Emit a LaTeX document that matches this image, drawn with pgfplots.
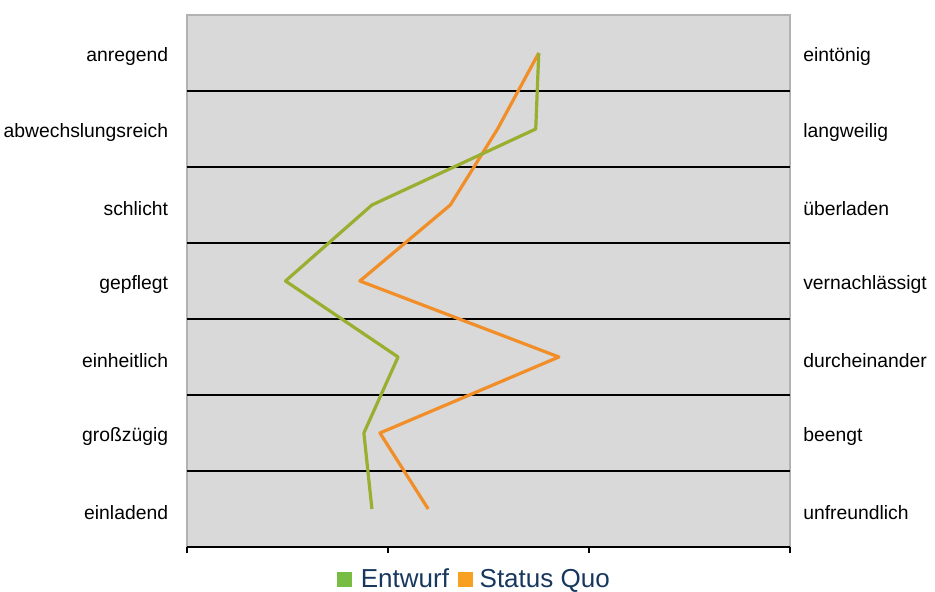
\documentclass[border=0pt]{standalone}
\usepackage{pgfplots}
\pgfplotsset{compat=1.18}
\usepackage{fontspec}
\setmainfont{Liberation Sans}
\definecolor{bg}{HTML}{D9D9D9}
\definecolor{lgreen}{HTML}{9AAE2F}
\definecolor{lorange}{HTML}{F28E28}
\definecolor{sqgreen}{HTML}{77BC43}
\definecolor{sqorange}{HTML}{F7A021}
\definecolor{navy}{HTML}{17375E}
\begin{document}
\begin{tikzpicture}
\useasboundingbox (-140.25pt,-33.75pt) rectangle (561pt,410.25pt);
\begin{axis}[at={(0,0)}, anchor=south west, scale only axis, width=452.25pt, height=399pt,
 xmin=0, xmax=3, ymin=0, ymax=7,
 axis x line*=bottom, axis y line*=left,
 x axis line style={black, line width=1.2pt, -},
 y axis line style={draw=none},
 axis background/.style={fill=bg, draw=gray!60, line width=0.8pt},
 xtick={0,1,2,3}, xticklabels={}, tick align=outside, major tick length=4.5pt,
 x tick style={black, line width=1pt},
 ytick={0.5,1.5,2.5,3.5,4.5,5.5,6.5},
 yticklabels={einladend,großzügig,einheitlich,gepflegt,schlicht,abwechslungsreich,anregend},
 y tick style={draw=none},
 yticklabel style={font=\fontsize{14.5}{16}\selectfont, inner sep=0pt, xshift=-9.5pt, yshift=-2.5pt},
 minor ytick={1,2,3,4,5,6}, yminorgrids, minor grid style={black, line width=1.2pt},
 minor tick length=0pt,
 legend style={at={(0.477,-0.061)}, anchor=center, draw=none, fill=none, legend columns=2,
   inner sep=0pt, font=\fontsize{19.5}{23}\selectfont, text=navy,
   /tikz/every even column/.append style={column sep=5pt}},
 legend cell align=left,
]
\addplot[lorange, line width=2.4pt, line join=round, forget plot] coordinates {(1.20,0.5) (0.96,1.5) (1.85,2.5) (0.86,3.5) (1.31,4.5) (1.545,5.5) (1.75,6.5)};
\addplot[lgreen, line width=2.4pt, line join=round, forget plot] coordinates {(0.92,0.5) (0.88,1.5) (1.05,2.5) (0.49,3.5) (0.92,4.5) (1.735,5.5) (1.75,6.5)};
\addlegendimage{legend image code/.code={\fill[sqgreen, draw=none] (0pt,-5.5pt) rectangle (11pt,5.5pt); \path[draw=none, fill=none] (0pt,0pt) -- (16pt,0pt);}}
\addlegendentry{Entwurf}
\addlegendimage{legend image code/.code={\fill[sqorange, draw=none] (0pt,-5.5pt) rectangle (11pt,5.5pt); \path[draw=none, fill=none] (0pt,0pt) -- (14pt,0pt);}}
\addlegendentry{Status Quo}
\end{axis}
\begin{axis}[at={(0,0)}, anchor=south west, scale only axis, width=452.25pt, height=399pt,
 xmin=0, xmax=3, ymin=0, ymax=7,
 hide x axis, axis y line*=right, y axis line style={draw=none},
 ytick={0.5,1.5,2.5,3.5,4.5,5.5,6.5},
 yticklabels={unfreundlich,beengt,durcheinander,vernachlässigt,überladen,langweilig,eintönig},
 y tick style={draw=none},
 yticklabel style={font=\fontsize{14.5}{16}\selectfont, inner sep=0pt, xshift=9.75pt, yshift=-2.5pt},
]
\addplot[draw=none] coordinates {(0,0)};
\end{axis}
\end{tikzpicture}
\end{document}
